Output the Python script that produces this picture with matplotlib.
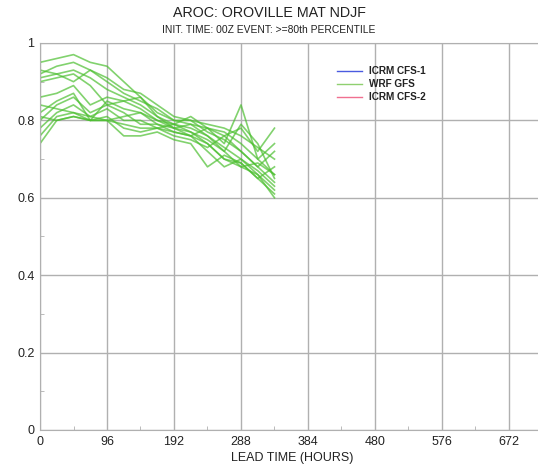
import numpy as np
import matplotlib.pyplot as plt
import matplotlib.ticker as ticker

plt.rcParams['font.family'] = ['Liberation Sans', 'DejaVu Sans']

# lead times every 24 h out to 336 h
hours = [0, 24, 48, 72, 96, 120, 144, 168, 192, 216, 240, 264, 288, 312, 336]

# WRF GFS ensemble members (ROC area)
wrf_gfs = [
    [0.95, 0.96, 0.97, 0.95, 0.94, 0.90, 0.86, 0.82, 0.80, 0.79, 0.78, 0.77, 0.74, 0.70, 0.66],
    [0.92, 0.94, 0.95, 0.93, 0.90, 0.87, 0.85, 0.83, 0.80, 0.80, 0.77, 0.75, 0.72, 0.68, 0.64],
    [0.93, 0.92, 0.93, 0.91, 0.88, 0.86, 0.84, 0.81, 0.79, 0.78, 0.76, 0.73, 0.70, 0.66, 0.62],
    [0.91, 0.92, 0.90, 0.93, 0.91, 0.88, 0.87, 0.84, 0.81, 0.80, 0.79, 0.78, 0.76, 0.73, 0.70],
    [0.86, 0.87, 0.89, 0.84, 0.86, 0.85, 0.83, 0.80, 0.79, 0.81, 0.78, 0.76, 0.78, 0.72, 0.78],
    [0.82, 0.85, 0.87, 0.80, 0.85, 0.83, 0.82, 0.80, 0.78, 0.79, 0.76, 0.72, 0.79, 0.74, 0.65],
    [0.80, 0.84, 0.86, 0.82, 0.84, 0.82, 0.79, 0.79, 0.77, 0.76, 0.72, 0.68, 0.70, 0.67, 0.63],
    [0.78, 0.82, 0.84, 0.81, 0.83, 0.80, 0.80, 0.78, 0.76, 0.75, 0.73, 0.76, 0.72, 0.68, 0.72],
    [0.76, 0.81, 0.82, 0.80, 0.81, 0.78, 0.77, 0.78, 0.77, 0.76, 0.78, 0.74, 0.84, 0.70, 0.74],
    [0.74, 0.80, 0.81, 0.80, 0.80, 0.81, 0.82, 0.79, 0.78, 0.77, 0.75, 0.72, 0.68, 0.66, 0.60],
    [0.84, 0.83, 0.82, 0.81, 0.80, 0.76, 0.76, 0.77, 0.75, 0.74, 0.68, 0.71, 0.69, 0.65, 0.68],
    [0.81, 0.80, 0.81, 0.80, 0.80, 0.79, 0.78, 0.78, 0.79, 0.77, 0.74, 0.70, 0.69, 0.65, 0.61],
    [0.90, 0.91, 0.92, 0.89, 0.84, 0.85, 0.86, 0.81, 0.78, 0.76, 0.74, 0.70, 0.68, 0.69, 0.66],
]

legend_labels = ['ICRM CFS-1', 'WRF GFS', 'ICRM CFS-2']
legend_colors = ['#4a5be0', '#8fd070', '#f07090']

fig = plt.figure(figsize=(5.38, 4.68), dpi=100)
ax = fig.add_axes([40 / 538, 1 - 430 / 468, 505 / 538, 387 / 468])

for member in wrf_gfs:
    ax.plot(hours, member, color='#4cbf30', lw=1.2, alpha=0.7)

ax.set_xlim(0, 96 * 505 / 67)
ax.set_ylim(0, 1)
ax.xaxis.set_major_locator(ticker.MultipleLocator(96))
ax.xaxis.set_minor_locator(ticker.MultipleLocator(48))
ax.yaxis.set_major_locator(ticker.MultipleLocator(0.2))
ax.yaxis.set_minor_locator(ticker.MultipleLocator(0.1))
ax.yaxis.set_major_formatter(ticker.FuncFormatter(lambda v, p: f'{v:g}'))
ax.grid(True, which='major', color='#b0b0b0', lw=1.0)
ax.set_axisbelow(True)
ax.tick_params(which='both', direction='in', color='#b0b0b0', labelsize=9,
               labelcolor='#222222', top=False, right=False)
ax.tick_params(which='major', length=0, pad=4)
ax.tick_params(which='minor', length=3)
for s in ax.spines.values():
    s.set_color('#b0b0b0')
ax.spines['right'].set_visible(False)

ax.set_xlabel('LEAD TIME (HOURS)', fontsize=9, color='#222222', labelpad=3)

fig.text(0.5, 1 - 13 / 468, 'AROC: OROVILLE MAT NDJF', ha='center', va='center',
         fontsize=10.3, color='#222222')
fig.text(0.5, 1 - 30 / 468, 'INIT. TIME: 00Z EVENT: >=80th PERCENTILE', ha='center',
         va='center', fontsize=7.4, color='#222222')

for i, (lab, col) in enumerate(zip(legend_labels, legend_colors)):
    y = 1 - (71 + i * 13) / 468
    fig.add_artist(plt.Line2D([337 / 538, 362 / 538], [y, y], color=col, lw=1.0,
                              transform=fig.transFigure))
    fig.text(369 / 538, y, lab, ha='left', va='center', fontsize=7.2,
             fontweight='bold', color='#222222')

fig.savefig('out.png', dpi=100)
